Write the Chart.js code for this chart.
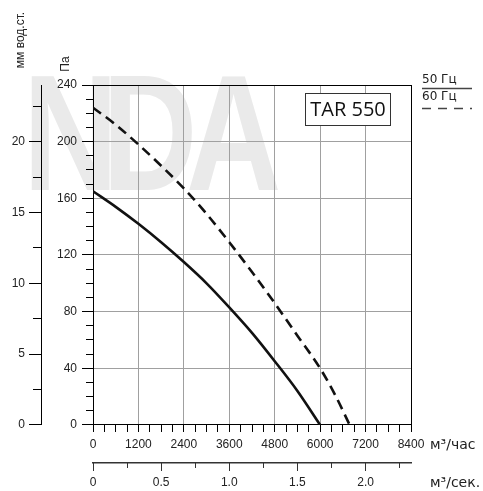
<!DOCTYPE html>
<html><head><meta charset="utf-8">
<script src="https://cdn.jsdelivr.net/npm/chart.js@4"></script>
<style>html,body{margin:0;padding:0;background:#fff;}#wrap{position:relative;width:483px;height:491px;}</style>
</head><body><div id="wrap"><canvas id="c"></canvas></div>
<script>
// ---- data ----
const seriesLabels = ['50 Гц', '60 Гц'];
const flow50 = [0, 600, 1200, 1800, 2400, 3000, 3600, 4200, 4800, 5400, 6000];
const pa50   = [165, 154, 142, 129, 115, 100, 83, 65, 45, 24, 0];
const flow60 = [0, 600, 1200, 1800, 2400, 3000, 3600, 4200, 4800, 5400, 6000, 6400, 6780];
const pa60   = [224, 212, 198, 183, 167, 149, 129, 108, 86, 63, 40, 21, 0];
const flowTicks = [0, 1200, 2400, 3600, 4800, 6000, 7200, 8400];
const paTicks = [0, 40, 80, 120, 160, 200, 240];
const mmTicks = [0, 5, 10, 15, 20];
const secTicks = [0, 0.5, 1.0, 1.5, 2.0];
const modelName = 'TAR 550';
const unitFlowH = 'м³/час', unitFlowS = 'м³/сек.', unitPa = 'Па', unitMm = 'мм вод.ст.';
const watermark = ['N', 'D', 'A'];

const flowMax = 8400, paMax = 240, paPerMm = 10, secPerHour = 3600;
const toPts = (xs, ys) => xs.map((x, i) => ({x: x, y: ys[i]}));
const inList = (list, v) => list.some(t => Math.abs(t - v) < 1e-6);
const clear = 'rgba(0,0,0,0)';
const gridGray = '#a0a0a0';
const thin = 0.01;
// short minor tick marks: dash pattern that keeps only the inner part of the tick line
const minorDash = (list, full, short) => c => (c.tick && !inList(list, c.tick.value)) ? [short, full - short] : [];
const minorOffset = (list, full, short) => c => (c.tick && !inList(list, c.tick.value)) ? short : 0;

Chart.defaults.font.family = '"Liberation Sans", Arial, sans-serif';
Chart.defaults.font.size = 12;
Chart.defaults.color = '#222';

const decor = {
  id: 'decor',
  beforeDraw(chart) {
    const ctx = chart.ctx;
    ctx.save();
    ctx.fillStyle = '#eaeaea';
    ctx.font = 'bold 165px "Liberation Sans", Arial, sans-serif';
    ctx.textBaseline = 'alphabetic';
    const xs = [23, 102, 186];
    watermark.forEach((ch, i) => {
      ctx.save();
      ctx.translate(xs[i], 190);
      ctx.scale(0.8, 1);
      ctx.fillText(ch, 0, 0);
      ctx.restore();
    });
    ctx.restore();
  },
  afterDraw(chart) {
    const ctx = chart.ctx, a = chart.chartArea;
    ctx.save();
    ctx.fillStyle = '#222';
    ctx.font = '12px "Liberation Sans", Arial, sans-serif';
    ctx.textAlign = 'center'; ctx.textBaseline = 'middle';
    ctx.save(); ctx.translate(21, 40); ctx.rotate(-Math.PI / 2); ctx.fillText(unitMm, 0, 0); ctx.restore();
    ctx.save(); ctx.translate(66, 64); ctx.rotate(-Math.PI / 2); ctx.fillText(unitPa, 0, 0); ctx.restore();
    ctx.font = '14px "DejaVu Sans", sans-serif';
    ctx.textAlign = 'left';
    ctx.fillText(unitFlowH, a.right + 19, a.bottom + 20);
    ctx.fillText(unitFlowS, a.right + 19, a.bottom + 58);
    const lx = a.right + 11;
    ctx.font = '12px "DejaVu Sans", sans-serif';
    ctx.fillStyle = '#222';
    ctx.fillText(seriesLabels[0], lx, 80);
    ctx.fillText(seriesLabels[1], lx, 97);
    ctx.strokeStyle = '#444'; ctx.lineWidth = 1.5;
    ctx.beginPath(); ctx.moveTo(lx, 88.5); ctx.lineTo(lx + 50, 88.5); ctx.stroke();
    ctx.setLineDash([9, 7]);
    ctx.beginPath(); ctx.moveTo(lx, 108.5); ctx.lineTo(lx + 50, 108.5); ctx.stroke();
    ctx.setLineDash([]);
    ctx.fillStyle = '#fff';
    ctx.fillRect(305, 93, 85, 32);
    ctx.strokeStyle = '#333'; ctx.lineWidth = 1;
    ctx.strokeRect(305.5, 93.5, 85, 32);
    ctx.fillStyle = '#111';
    ctx.font = '20px "Open Sans", sans-serif';
    ctx.textAlign = 'center';
    ctx.fillText(modelName, 348, 110);
    ctx.restore();
  }
};

new Chart(document.getElementById('c'), {
  type: 'line',
  data: {
    datasets: [
      { label: seriesLabels[0], data: toPts(flow50, pa50), borderColor: '#111', borderWidth: 2.6,
        pointRadius: 0, cubicInterpolationMode: 'monotone', fill: false, xAxisID: 'x', yAxisID: 'y' },
      { label: seriesLabels[1], data: toPts(flow60, pa60), borderColor: '#111', borderWidth: 2.6,
        borderDash: [10, 6], pointRadius: 0, cubicInterpolationMode: 'monotone', fill: false, xAxisID: 'x', yAxisID: 'y' }
    ]
  },
  options: {
    responsive: true, maintainAspectRatio: false, animation: false,
    layout: { padding: { top: 85, right: 72, left: 0, bottom: 0 } },
    plugins: { legend: { display: false }, tooltip: { enabled: false } },
    scales: {
      x: { type: 'linear', position: 'bottom', weight: 1, min: 0, max: flowMax,
        ticks: { stepSize: 300, autoSkip: false, maxRotation: 0, padding: 5,
          callback: v => inList(flowTicks, v) ? String(v) : '' },
        grid: { color: c => (c.tick && inList(flowTicks, c.tick.value) && c.tick.value > 0 && c.tick.value < flowMax) ? gridGray : clear,
          tickColor: '#000', tickLength: 7 },
        border: { color: '#000', width: 1 },
        afterFit: s => { s.height = 38; } },
      x2Minor: { type: 'linear', position: 'bottom', weight: 2, min: 0, max: flowMax / secPerHour,
        ticks: { stepSize: 0.25, includeBounds: false, display: false },
        grid: { drawOnChartArea: false, tickLength: 5, tickColor: '#333' },
        border: { display: false },
        afterFit: s => { s.height = thin; } },
      x2: { type: 'linear', position: 'bottom', weight: 3, min: 0, max: flowMax / secPerHour,
        ticks: { stepSize: 0.5, includeBounds: false, autoSkip: false, maxRotation: 0, padding: 4,
          callback: v => inList(secTicks, v) ? (v === 0 ? '0' : v.toFixed(1)) : '' },
        grid: { drawOnChartArea: false, tickLength: 8, tickColor: '#333' },
        border: { color: '#333', width: 1.5 },
        afterFit: s => { s.height = 28; } },
      xTop: { type: 'linear', position: 'top', min: 0, max: flowMax,
        ticks: { display: false }, grid: { drawOnChartArea: false, drawTicks: false },
        border: { color: '#000', width: 1 }, afterFit: s => { s.height = 0; } },
      yRight: { type: 'linear', position: 'right', min: 0, max: paMax,
        ticks: { display: false }, grid: { drawOnChartArea: false, drawTicks: false },
        border: { color: '#000', width: 1 }, afterFit: s => { s.width = 0; } },
      y: { type: 'linear', position: 'left', weight: 2, min: 0, max: paMax,
        ticks: { stepSize: 10, autoSkip: false, padding: 5, callback: v => inList(paTicks, v) ? String(v) : '' },
        grid: { color: c => (c.tick && inList(paTicks, c.tick.value) && c.tick.value > 0 && c.tick.value < paMax) ? gridGray : clear,
          tickColor: '#000', tickLength: 11,
          tickBorderDash: minorDash(paTicks, 11, 7), tickBorderDashOffset: minorOffset(paTicks, 11, 7) },
        border: { color: '#000', width: 1 }, afterFit: s => { s.width = 52; } },
      mm: { type: 'linear', position: 'left', weight: 4, min: 0, max: paMax / paPerMm,
        ticks: { stepSize: 2.5, autoSkip: false, includeBounds: false, padding: 4, callback: v => inList(mmTicks, v) ? String(v) : '' },
        grid: { drawOnChartArea: false, tickLength: 12, tickColor: '#000',
          tickBorderDash: minorDash(mmTicks, 12, 8), tickBorderDashOffset: minorOffset(mmTicks, 12, 8) },
        border: { color: '#000', width: 1 }, afterFit: s => { s.width = 41; } }
    }
  },
  plugins: [decor]
});
</script></body></html>
